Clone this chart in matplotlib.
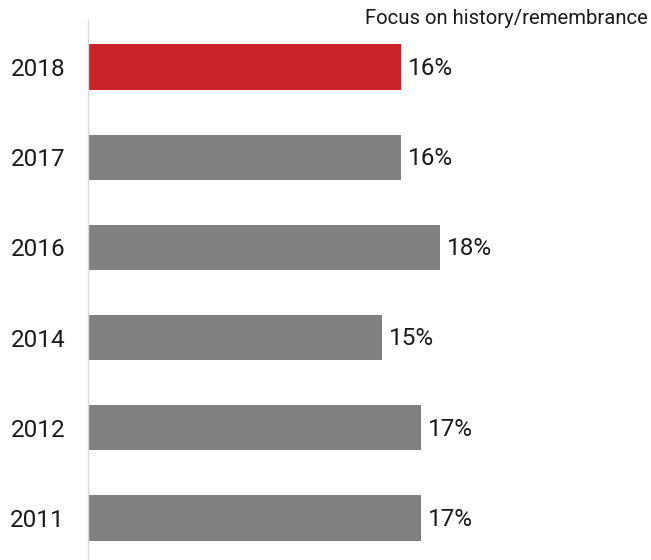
import matplotlib
matplotlib.use("Agg")
import matplotlib.pyplot as plt

# data, top to bottom
years = ["2018", "2017", "2016", "2014", "2012", "2011"]
values = [16, 16, 18, 15, 17, 17]
colors = ["#cc2229", "#808080", "#808080", "#808080", "#808080", "#808080"]
title = "Focus on history/remembrance"

plt.rcParams["font.family"] = ["Roboto", "DejaVu Sans"]

fig = plt.figure(figsize=(6.51, 5.60), dpi=100)
ax = fig.add_axes([88 / 651, 0, 563 / 651, 540 / 560])

pos = list(range(len(years)))
ax.barh(pos, values, height=0.5, color=colors)

ax.set_xlim(0, 563 / 19.57)
ax.set_ylim(5.466, -0.521)

for y, v in zip(pos, values):
    ax.annotate(f"{v}%", (v, y), xytext=(5, -1), textcoords="offset points",
                ha="left", va="center", fontsize=17.5, color="#1a1a1a")

ax.set_yticks(pos)
ax.set_yticklabels(years, fontsize=17.5, color="#1a1a1a")
ax.tick_params(axis="y", length=0, pad=16.5)
ax.set_xticks([])

for side in ["top", "right", "bottom"]:
    ax.spines[side].set_visible(False)
ax.spines["left"].set_color("#d9d9d9")
ax.spines["left"].set_linewidth(1)

fig.text(648 / 651, 1 - 18 / 560, title, ha="right", va="center", fontsize=14.6, color="#1a1a1a")

fig.savefig("out.png", dpi=100)
